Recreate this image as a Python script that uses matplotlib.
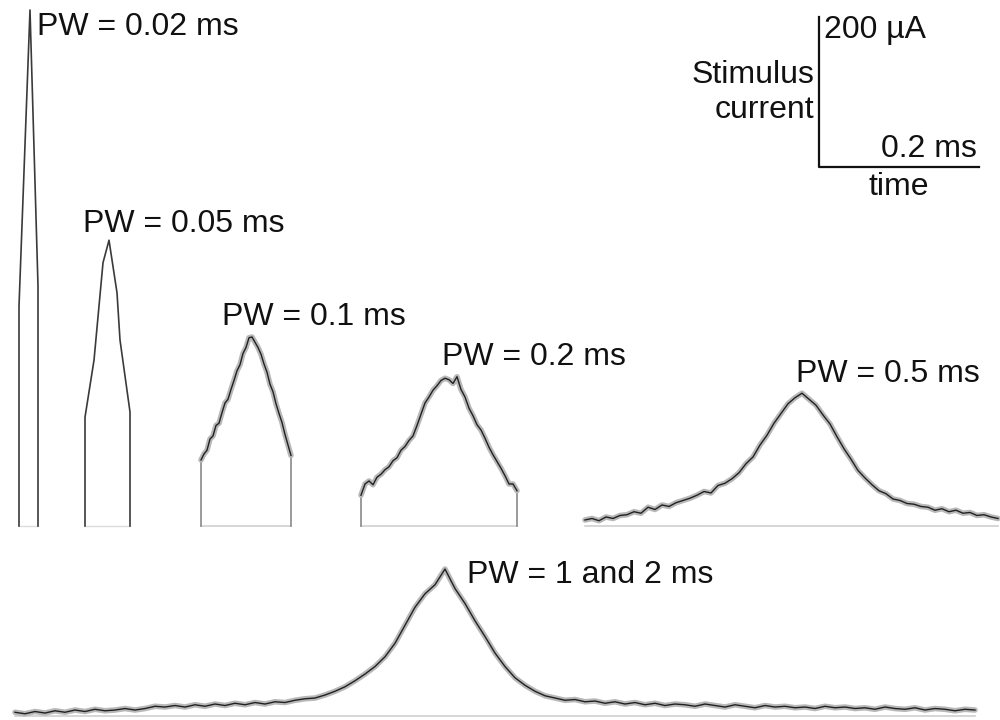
"""
Stimulus current waveforms for different pulse widths (PW).
Mean trace in black, spread in grey, with a scale bar instead of axes.
"""

import numpy as np
import matplotlib.pyplot as plt

plt.rcParams['font.family'] = ['Liberation Sans', 'DejaVu Sans']

# ---------- data: time in ms, current in uA ----------
# short pulses, clean traces given as vertices
pw002_t = [0.0, 0.0, 0.01375, 0.02375, 0.02375]
pw002_i = [0, 293, 688, 320, 0]
pw005_t = [0.0, 0.0, 0.01125, 0.0225, 0.03, 0.04, 0.04375, 0.05625, 0.05625]
pw005_i = [0, 145, 221, 351, 381, 311, 248, 152, 0]

# longer pulses, mean current on a uniform sample grid
pw01_dt = 0.00375
pw01_i = [88, 96, 101, 116, 120, 134, 137, 151, 164, 169,
          182, 194, 207, 215, 230, 238, 251, 252, 245, 238,
          229, 216, 205, 189, 179, 163, 150, 138, 122, 108, 94]

pw02_dt = 0.005
pw02_i = [41, 56, 60, 55, 65, 69, 75, 79, 87, 91,
          101, 106, 114, 120, 134, 149, 164, 172, 181, 187,
          194, 197, 195, 190, 199, 182, 172, 157, 147, 135,
          128, 117, 105, 95, 86, 77, 67, 56, 56, 47]

pw05_dt = 0.00875
pw05_i = [8, 10, 7, 12, 10, 14, 15, 19, 17, 25,
          22, 28, 26, 31, 34, 37, 41, 46, 44, 54,
          57, 63, 71, 83, 92, 108, 121, 137, 150, 163,
          171, 177, 169, 161, 148, 136, 119, 103, 89, 74,
          64, 55, 47, 43, 36, 34, 30, 29, 26, 25,
          21, 23, 19, 21, 17, 18, 14, 15, 12, 10]

pw12_dt = 0.0125
pw12_i = [5, 3, 6, 4, 7, 5, 8, 6, 9, 7, 8, 10, 8,
          10, 13, 12, 14, 12, 15, 13, 16, 14, 17, 15, 18, 16,
          19, 18, 21, 23, 24, 28, 33, 39, 47, 56, 66,
          79, 97, 121, 145, 163, 175, 196,
          170, 150, 127, 106, 84, 66, 51, 41, 33, 27,
          24, 21, 22, 19, 20, 17, 19, 16, 18, 15,
          17, 14, 16, 15, 13, 16, 14, 12, 15, 13,
          11, 14, 12, 13, 11, 12, 10, 13, 11, 12,
          10, 11, 9, 12, 10, 9, 11, 8, 10, 9,
          7, 9, 8]

labels = ["PW = 0.02 ms", "PW = 0.05 ms", "PW = 0.1 ms",
          "PW = 0.2 ms", "PW = 0.5 ms", "PW = 1 and 2 ms"]

bar_ms, bar_ua = 0.2, 200

# ---------- layout ----------
ROW1, ROW2 = 258.7, 5.3            # baselines (uA)
X0 = [0.02375, 0.10625, 0.25125, 0.45125, 0.73125, 0.01875]  # trace starts (ms)
LABEL_POS = [(37, 35), (83, 232), (222, 325), (442, 365), (796, 382), (467, 583)]  # px
BAR_ORIGIN = (1.02375, 737.3)
FS = 23


def px(x, y):
    return x/1000, 1 - y/720


def clean_trace(ax, t0, base, t, i):
    t = t0 + np.asarray(t); y = base + np.asarray(i)
    ax.plot([t[0], t[-1]], [base, base], color='#dcdcdc', lw=1)
    ax.plot(t, y, color='#3a3a3a', lw=1.2)


def noisy_trace(ax, t0, base, dt, vals, edges=True):
    t = t0 + dt*np.arange(len(vals)); y = base + np.asarray(vals)
    ax.plot([t[0], t[-1]], [base, base], color='#d0d0d0', lw=1.2)
    if edges:
        ax.plot([t[0], t[0]], [base, y[0]], color='#8a8a8a', lw=1.2)
        ax.plot([t[-1], t[-1]], [base, y[-1]], color='#8a8a8a', lw=1.2)
    ax.plot(t, y, color='#b8b8b8', lw=4, solid_joinstyle='round', solid_capstyle='round')
    ax.plot(t, y, color='#202020', lw=1.0)


fig = plt.figure(figsize=(10, 7.2), dpi=100)
ax = fig.add_axes([0, 0, 1, 1])
ax.set_xlim(0, 1.25); ax.set_ylim(0, 960)
ax.axis('off')

clean_trace(ax, X0[0], ROW1, pw002_t, pw002_i)
clean_trace(ax, X0[1], ROW1, pw005_t, pw005_i)
noisy_trace(ax, X0[2], ROW1, pw01_dt, pw01_i)
noisy_trace(ax, X0[3], ROW1, pw02_dt, pw02_i)
noisy_trace(ax, X0[4], ROW1, pw05_dt, pw05_i, edges=False)
noisy_trace(ax, X0[5], ROW2, pw12_dt, pw12_i, edges=False)

for lab, (lx, ly) in zip(labels, LABEL_POS):
    fig.text(*px(lx, ly), lab, fontsize=FS, ha='left', va='baseline', color='#111')

# scale bar
bx, by = BAR_ORIGIN
ax.plot([bx, bx, bx + bar_ms], [by + bar_ua, by, by], color='#111', lw=1.6)
fig.text(*px(824, 38), f"{bar_ua} µA", fontsize=FS, ha='left', va='baseline', color='#111')
fig.text(*px(814, 83), "Stimulus", fontsize=FS, ha='right', va='baseline', color='#111')
fig.text(*px(814, 118), "current", fontsize=FS, ha='right', va='baseline', color='#111')
fig.text(*px(977, 157), f"{bar_ms} ms", fontsize=FS, ha='right', va='baseline', color='#111')
fig.text(*px(899, 195), "time", fontsize=FS, ha='center', va='baseline', color='#111')

fig.savefig("out.png", dpi=100, facecolor='white')
